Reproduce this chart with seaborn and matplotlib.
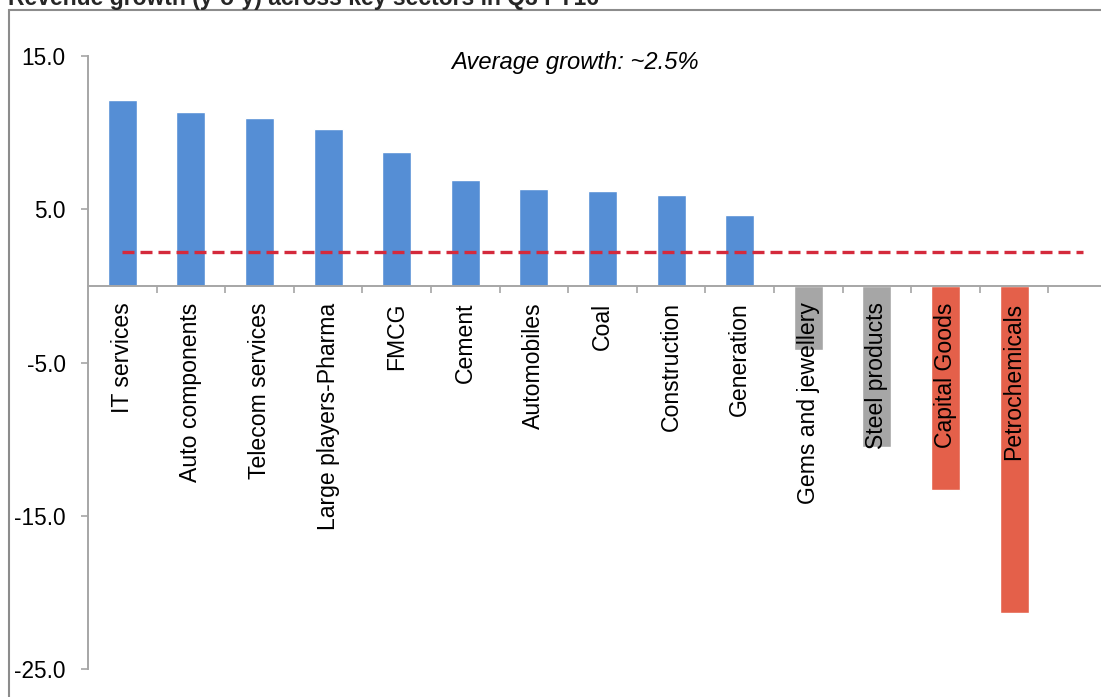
import numpy as np
import pandas as pd
import matplotlib
matplotlib.use("Agg")
import matplotlib.pyplot as plt
from matplotlib.patches import Rectangle
import seaborn as sns

# ---- data ----
categories = ["IT services", "Auto components", "Telecom services", "Large players-Pharma",
              "FMCG", "Cement", "Automobiles", "Coal", "Construction", "Generation",
              "Gems and jewellery", "Steel products", "Capital Goods", "Petrochemicals", ""]
growth = [12.1, 11.3, 10.95, 10.2, 8.7, 6.9, 6.3, 6.2, 5.95, 4.6,
          -4.2, -10.5, -13.3, -21.3, np.nan]
groups = ["pos", "pos", "pos", "pos", "pos", "pos", "pos", "pos", "pos", "pos",
          "mid", "mid", "neg", "neg", "none"]
average_line = [2.2, 2.2, 2.2, 2.2, 2.2, 2.2, 2.2, 2.2, 2.2, 2.2, 2.2, 2.2, 2.2, 2.2, 2.2]
y_ticks = [-25, -15, -5, 5, 15]
y_tick_labels = ["-25.0", "-15.0", "-5.0", "5.0", "15.0"]
title = "Revenue growth (y-o-y) across key sectors in Q3 FY16"
note = "Average growth: ~2.5%"

palette = {"pos": "#558ED5", "mid": "#A6A6A6", "neg": "#E4604A", "none": "#FFFFFF"}

df = pd.DataFrame({"sector": categories, "growth": growth, "group": groups})
avg_df = pd.DataFrame({"sector": categories, "avg": average_line})

sns.set_style("white")
plt.rcParams["font.family"] = ["Liberation Sans", "DejaVu Sans"]

W, H = 1101, 697
fig = plt.figure(figsize=(W / 100, H / 100), dpi=100)
ax = fig.add_axes([88 / W, 1 - 669.3 / H, 1029 / W, (669.3 - 55.7) / H])

sns.barplot(data=df, x="sector", y="growth", hue="group", palette=palette,
            order=categories, dodge=False, width=0.42, legend=False, ax=ax,
            saturation=1)
sns.lineplot(data=avg_df, x="sector", y="avg", ax=ax, color="#D42A3C",
             linewidth=2.4, dashes=False, sort=False)
for ln in ax.lines:
    ln.set_linestyle((0, (3.6, 1.8)))
    ln.set_zorder(3)
for p in ax.patches:
    p.set_zorder(1)

ax.set_axisbelow(False)
ax.xaxis.set_zorder(4)
ax.yaxis.set_zorder(4)

ax.set_xlim(-0.5, len(categories) - 0.5)
ax.set_ylim(-25, 15)

# spines
for s in ["top", "right"]:
    ax.spines[s].set_visible(False)
ax.spines["left"].set_color("#A6A6A6")
ax.spines["left"].set_linewidth(1.4)
ax.spines["bottom"].set_position(("data", 0))
ax.spines["bottom"].set_color("#A6A6A6")
ax.spines["bottom"].set_linewidth(1.4)

# y axis
ax.set_yticks(y_ticks)
ax.set_yticklabels(y_tick_labels)
ax.tick_params(axis="y", which="major", direction="out", length=5, width=1.2,
               color="#A6A6A6", labelsize=16.3, pad=11, labelcolor="black", left=True)

# x axis
ax.set_xticks(range(len(categories)))
ax.set_xticklabels(categories, rotation=90, va="top", ha="center")
ax.tick_params(axis="x", which="major", length=0, pad=12, labelsize=16.6, labelcolor="black")
ax.set_xticks(np.arange(0.5, len(categories), 1.0), minor=True)
ax.tick_params(axis="x", which="minor", direction="out", length=5, width=1.2,
               color="#A6A6A6", bottom=True)
ax.set_xlabel("")
ax.set_ylabel("")
ax.grid(False)

# annotation and title
fig.text(575 / W, 1 - 62 / H, note, ha="center", va="center", style="italic",
         fontsize=17.1, color="black")
fig.text(8 / W, 1 - 5 / H, title, ha="left", va="baseline", fontweight="bold",
         fontsize=16.5, color="#262626")

# outer frame
frame = Rectangle((9 / W, -0.05), 2.0, (1 - 10 / H) + 0.05, transform=fig.transFigure,
                  fill=False, edgecolor="#8C8C8C", linewidth=1.5, clip_on=False)
fig.add_artist(frame)

fig.savefig("out.png", dpi=100)
